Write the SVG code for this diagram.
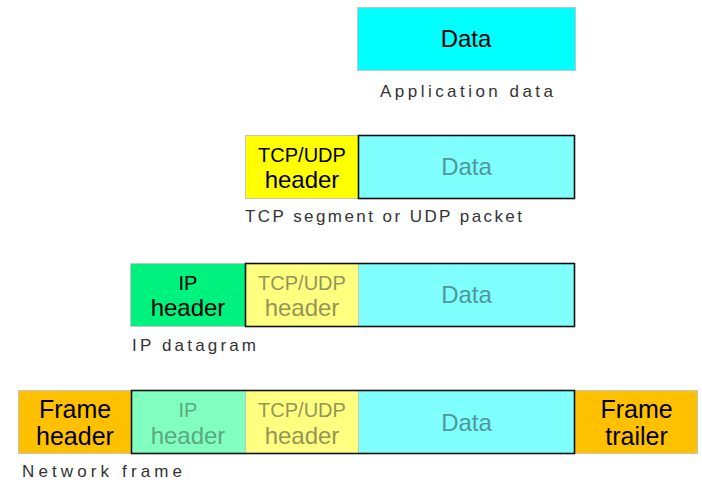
<svg xmlns="http://www.w3.org/2000/svg" width="702" height="482" viewBox="0 0 702 482">
  <style>
    .cell { stroke: #c4c4c4; stroke-width: 1; }
    .wrap { fill: none; stroke: #111; stroke-width: 1.6; }
    .t { font-family: "Liberation Sans", Arial, sans-serif; text-anchor: middle; fill: #000; }
    .big { font-size: 24px; }
    .frm { font-size: 25px; }
    .sm { font-size: 20px; }
    .lbl { font-family: "Liberation Sans", Arial, sans-serif; font-size: 17px; fill: #333; }
    .cyan { fill: #00ffff; }
    .cyanL { fill: #80ffff; }
    .yel { fill: #ffff00; }
    .yelL { fill: #ffff80; }
    .grn { fill: #00f27e; }
    .grnL { fill: #80ffc0; }
    .org { fill: #ffc000; }
    .fadeC { fill: #4d9999; }
    .fadeY { fill: #95955a; }
    .fadeG { fill: #5ca880; }
  </style>

  <!-- Layer 1: application data -->
  <g id="app-data">
    <rect class="cell cyan" x="357.5" y="7.5" width="218" height="63"/>
    <text class="t big" x="466" y="47">Data</text>
    <text class="lbl" x="380" y="97" textLength="173" lengthAdjust="spacing">Application data</text>
  </g>

  <!-- Layer 2: transport segment -->
  <g id="tcp-segment">
    <rect class="cell yel" x="245.5" y="135.5" width="113" height="63"/>
    <rect class="cell cyanL" x="358.5" y="135.5" width="216" height="63"/>
    <rect class="wrap" x="358.5" y="135.5" width="216" height="63"/>
    <text class="t sm" x="302" y="162">TCP/UDP</text>
    <text class="t big" x="302" y="188">header</text>
    <text class="t big fadeC" x="466.5" y="175">Data</text>
    <text class="lbl" x="245" y="222" textLength="277" lengthAdjust="spacing">TCP segment or UDP packet</text>
  </g>

  <!-- Layer 3: IP datagram -->
  <g id="ip-datagram">
    <rect class="cell grn" x="130.5" y="263.5" width="115" height="63"/>
    <rect class="cell yelL" x="245.5" y="263.5" width="113" height="63"/>
    <rect class="cell cyanL" x="358.5" y="263.5" width="216" height="63"/>
    <rect class="wrap" x="245.5" y="263.5" width="329" height="63"/>
    <text class="t sm" x="188" y="290">IP</text>
    <text class="t big" x="188" y="316">header</text>
    <text class="t sm fadeY" x="302" y="290">TCP/UDP</text>
    <text class="t big fadeY" x="302" y="316">header</text>
    <text class="t big fadeC" x="466.5" y="303">Data</text>
    <text class="lbl" x="132" y="351" textLength="124" lengthAdjust="spacing">IP datagram</text>
  </g>

  <!-- Layer 4: network frame -->
  <g id="network-frame">
    <rect class="cell org" x="18.5" y="390.5" width="113" height="63"/>
    <rect class="cell grnL" x="131.5" y="390.5" width="114" height="63"/>
    <rect class="cell yelL" x="245.5" y="390.5" width="113" height="63"/>
    <rect class="cell cyanL" x="358.5" y="390.5" width="216" height="63"/>
    <rect class="cell org" x="574.5" y="390.5" width="123" height="63"/>
    <rect class="wrap" x="131.5" y="390.5" width="443" height="63"/>
    <text class="t frm" x="75" y="418">Frame</text>
    <text class="t frm" x="75" y="445">header</text>
    <text class="t sm fadeG" x="188" y="417">IP</text>
    <text class="t big fadeG" x="188" y="444">header</text>
    <text class="t sm fadeY" x="302" y="417">TCP/UDP</text>
    <text class="t big fadeY" x="302" y="444">header</text>
    <text class="t big fadeC" x="466.5" y="431">Data</text>
    <text class="t frm" x="636.5" y="418">Frame</text>
    <text class="t frm" x="636.5" y="445">trailer</text>
    <text class="lbl" x="22" y="477" textLength="160" lengthAdjust="spacing">Network frame</text>
  </g>
</svg>
